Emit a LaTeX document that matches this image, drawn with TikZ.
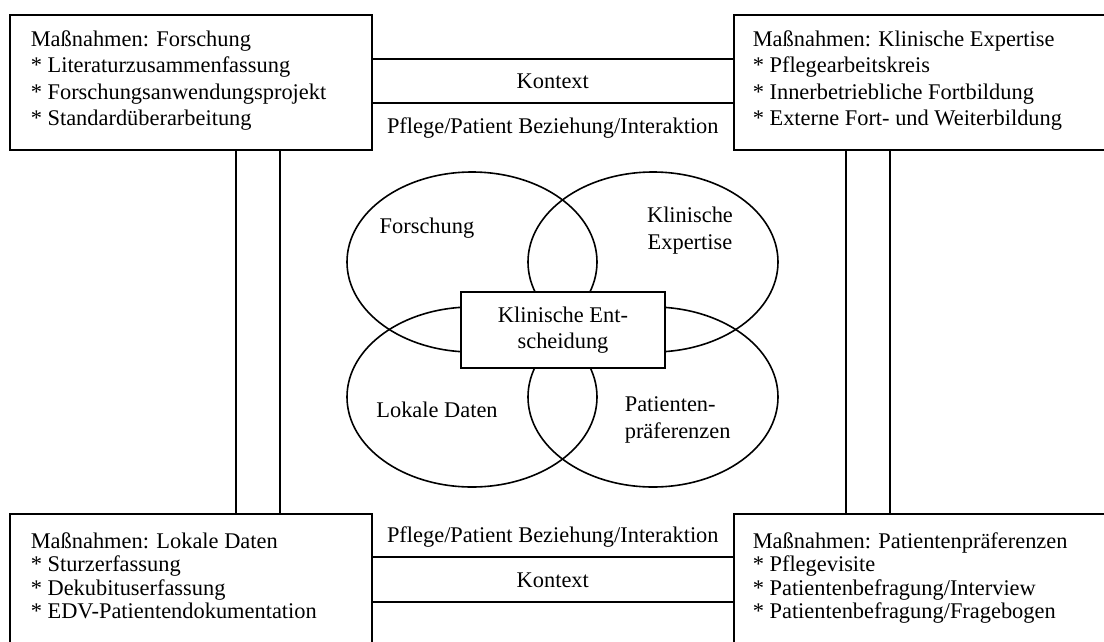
\documentclass[tikz,border=0pt]{standalone}
\usepackage{fontspec}
\setmainfont{Liberation Serif}
\usetikzlibrary{positioning}

\tikzset{
  massbox/.style={draw,line width=1.6pt,anchor=north west,inner sep=0pt},
  masstext/.style={anchor=north west,align=left,inner sep=0pt,
                   font=\fontsize{22.4}{#1}\selectfont},
  lbl/.style={inner sep=0pt,font=\fontsize{22.4}{27}\selectfont,align=center}
}

\begin{document}
\begin{tikzpicture}[x=1pt,y=-1pt,line width=1.6pt]
\useasboundingbox (0,0) rectangle (1104,641);
\clip (0,0) rectangle (1104,641);
\node[massbox,minimum width=362pt,minimum height=135pt] (fo) at (9,14) {};
\node[massbox,minimum width=390pt,minimum height=135pt] (ke) at (733,14) {};
\node[massbox,minimum width=362pt,minimum height=140pt] (ld) at (9,513) {};
\node[massbox,minimum width=390pt,minimum height=140pt] (pp) at (733,513) {};
\node[masstext=26.3pt] (fotext) at ([xshift=21pt,yshift=-16pt]fo.north west)
  {Maßnahmen: Forschung\\* Literaturzusammenfassung\\
   * Forschungsanwendungsprojekt\\* Standardüberarbeitung};
\node[masstext=26.3pt] (ketext) at ([xshift=19pt,yshift=-16pt]ke.north west)
  {Maßnahmen: Klinische Expertise\\* Pflegearbeitskreis\\
   * Innerbetriebliche Fortbildung\\* Externe Fort- und Weiterbildung};
\node[masstext=23.3pt] (ldtext) at ([xshift=21pt,yshift=-19pt]ld.north west)
  {Maßnahmen: Lokale Daten\\* Sturzerfassung\\
   * Dekubituserfassung\\* EDV-Patientendokumentation};
\node[masstext=23.3pt] (pptext) at ([xshift=19pt,yshift=-19pt]pp.north west)
  {Maßnahmen: Patientenpräferenzen\\* Pflegevisite\\
   * Patientenbefragung/Interview\\* Patientenbefragung/Fragebogen};
\foreach \d in {45,89}{%
\draw ([yshift=-\d pt]fo.north east) -- ([yshift=-\d pt]ke.north west);
}
\foreach \d in {44,89}{%
\draw ([yshift=-\d pt]ld.north east) -- ([yshift=-\d pt]pp.north west);
}
\path ([yshift=-67pt]fo.north east) -- node[lbl] (kontextoben) {Kontext}
      ([yshift=-67pt]ke.north west);
\path ([yshift=-114pt]fo.north east) -- node[lbl] (pflegeoben)
      {Pflege/Patient Beziehung/Interaktion} ([yshift=-114pt]ke.north west);
\path ([yshift=-24pt]ld.north east) -- node[lbl] (pflegeunten)
      {Pflege/Patient Beziehung/Interaktion} ([yshift=-24pt]pp.north west);
\path ([yshift=-67pt]ld.north east) -- node[lbl] (kontextunten) {Kontext}
      ([yshift=-67pt]pp.north west);
\foreach \s in {227,271}{%
\draw ([xshift=\s pt]fo.south west) -- ([xshift=\s pt]fo.south west |- ld.north);
}
\foreach \s in {113,157}{%
\draw ([xshift=\s pt]ke.south west) -- ([xshift=\s pt]ke.south west |- pp.north);
}
\foreach \cx/\cy in {472/262,653/262,472/397,653/397}{%
\draw (\cx,\cy) ellipse [x radius=125pt,y radius=90pt];
}
\node[lbl] (forschung) at (427,228) {Forschung};
\node[lbl] (expertise) at (690,231) {Klinische\\Expertise};
\node[lbl] (lokal) at (437,410) {Lokale Daten};
\node[lbl,align=left,anchor=west] (patient) at (624,420) {Patienten-\\präferenzen};
\node[draw,fill=white,minimum width=204pt,minimum height=76pt,inner sep=0pt,
      font=\fontsize{22.4}{26}\selectfont,align=center] (entscheidung) at (563,330)
  {Klinische Ent-\\scheidung};
\end{tikzpicture}
\end{document}
